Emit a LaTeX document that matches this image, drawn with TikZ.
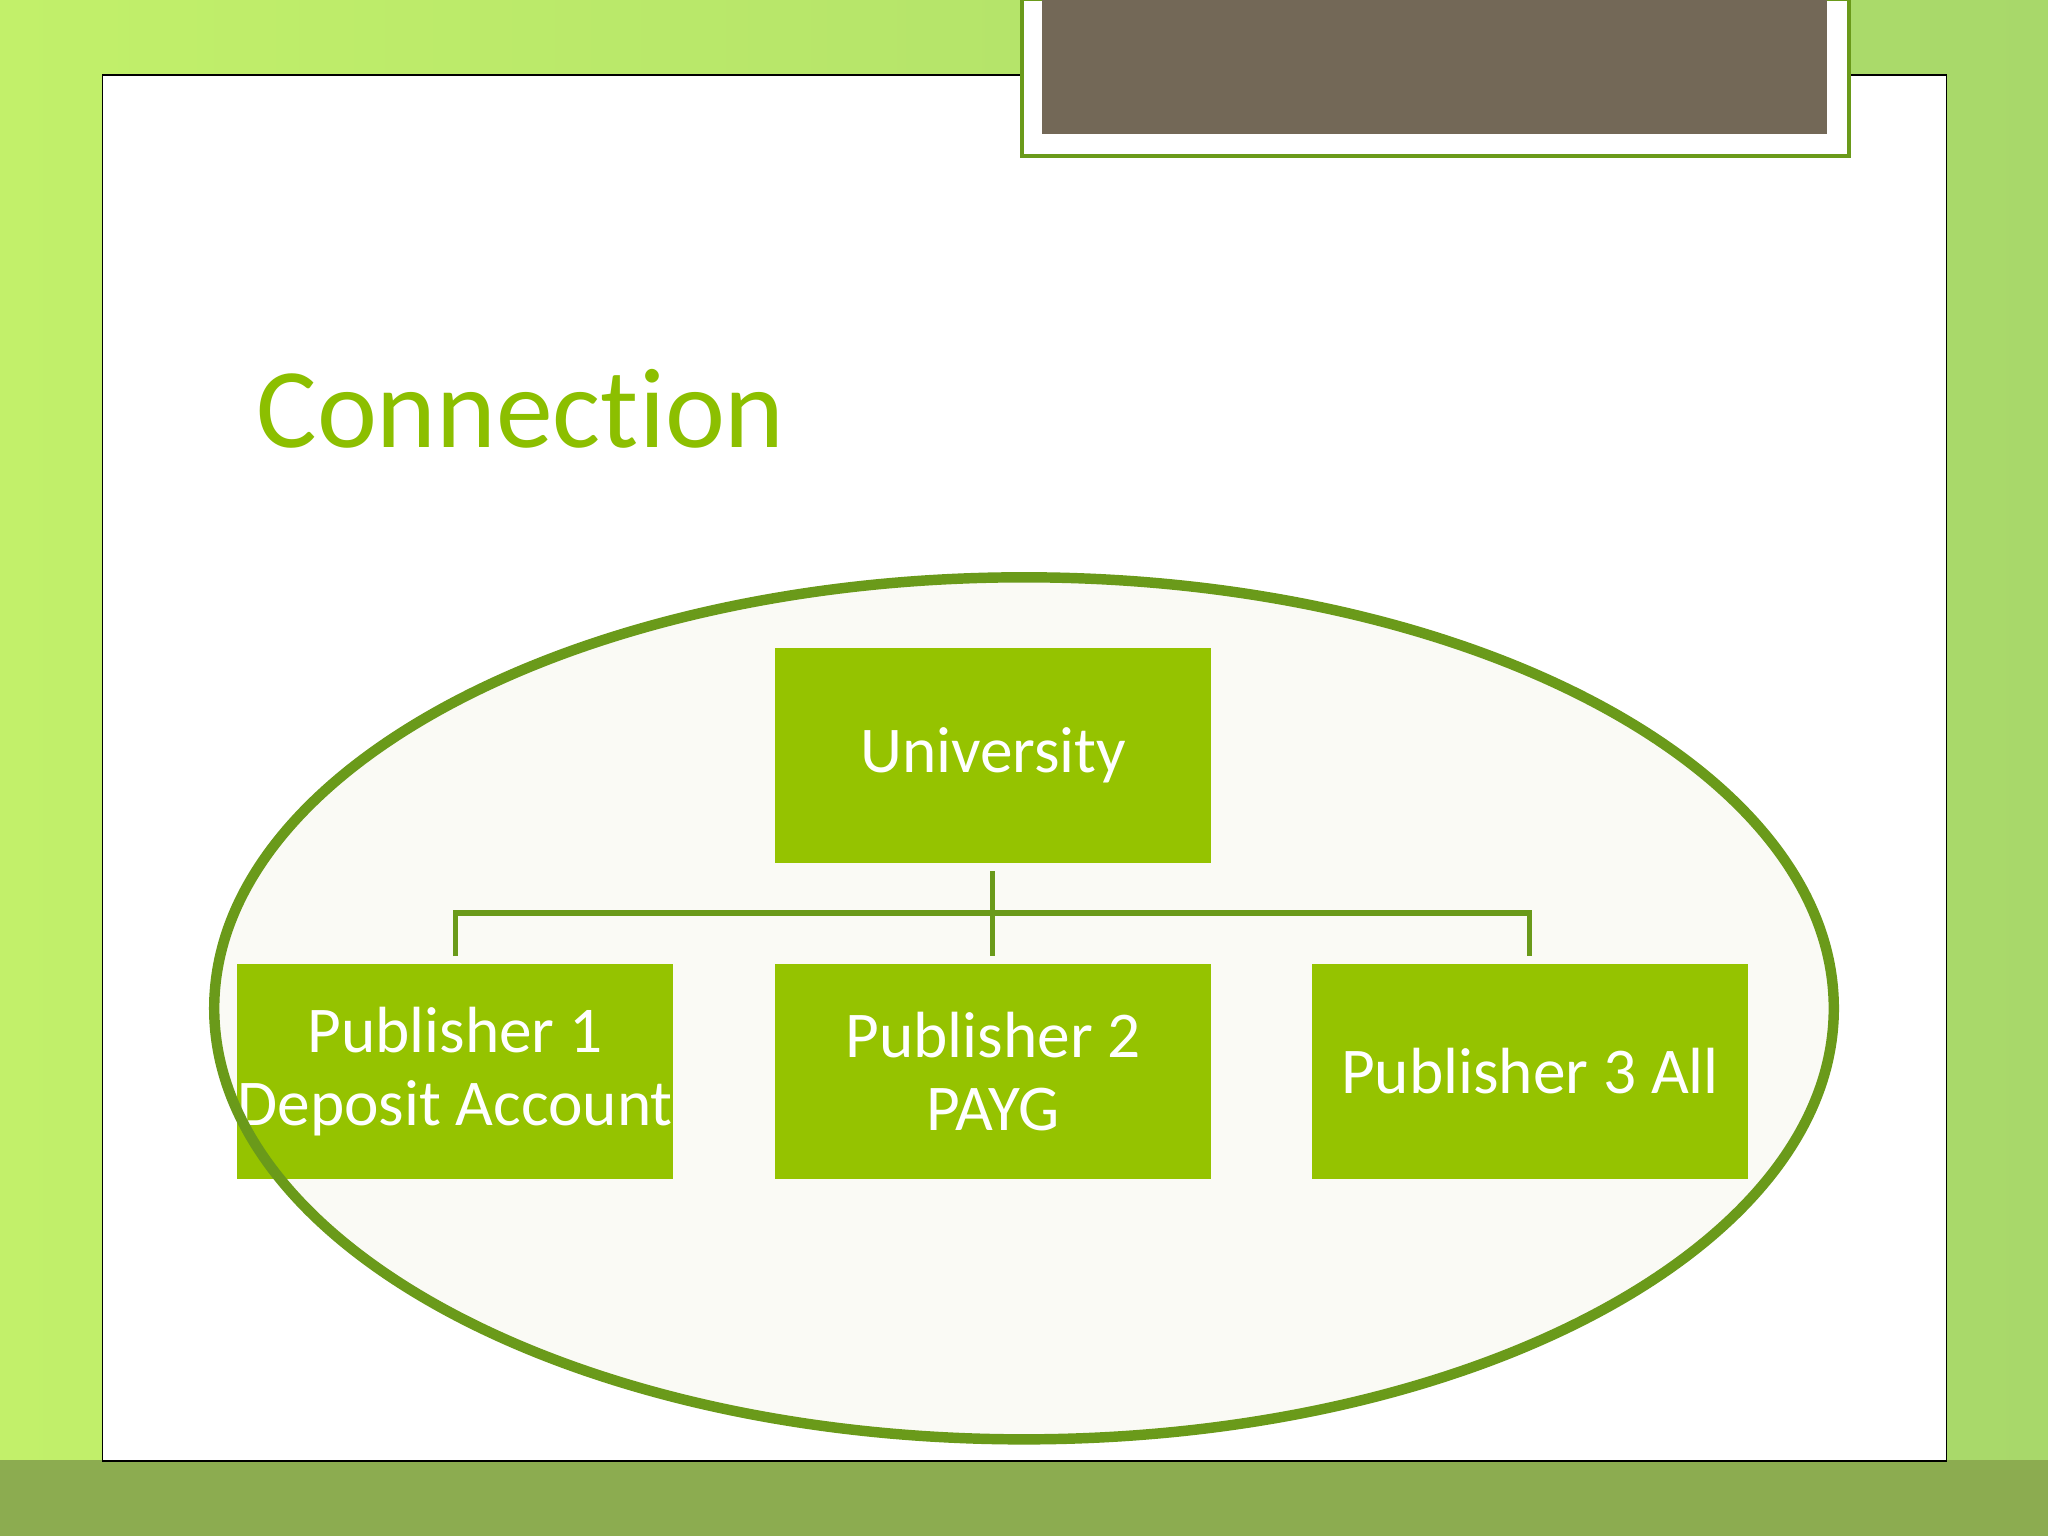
\documentclass[tikz,border=0pt]{standalone}
\usepackage{fontspec}
\setmainfont{Carlito}[Ligatures={NoCommon,NoDiscretionary,NoRare}]
\usetikzlibrary{positioning}
\definecolor{boxg}{HTML}{95C300}
\definecolor{lineg}{HTML}{6A9A1A}
\definecolor{titleg}{HTML}{8CBF00}
\definecolor{brown}{HTML}{736857}
\definecolor{ellf}{HTML}{FAFAF5}
\definecolor{bgl}{HTML}{C2F06A}
\definecolor{bgr}{HTML}{A8D86A}
\definecolor{bgb}{HTML}{8CAC50}
\tikzset{
  box/.style={draw=none,fill=boxg,minimum width=167pt,minimum height=82pt,inner sep=0pt,
    text=white,font=\fontsize{25}{28}\selectfont,align=center},
  conn/.style={draw=lineg,line width=2pt}
}
\begin{document}
\begin{tikzpicture}[x=0.5pt,y=-0.5pt]
\useasboundingbox (0,0) rectangle (1568,1176);
\shade[left color=bgl, right color=bgr] (0,0) rectangle (1568,1176);
\fill[bgb] (0,1118) rectangle (1568,1176);
\node[draw=black,line width=0.5pt,fill=white,minimum width=706pt,minimum height=530.5pt,inner sep=0pt,anchor=north west] (slide) at (78,57) {};
\node[draw=lineg,line width=1.5pt,fill=white,minimum width=316.5pt,minimum height=60pt,anchor=north west,inner sep=0pt] (topbox) at (781,-2) {};
\node[fill=brown,minimum width=300.5pt,minimum height=52pt,anchor=north west,inner sep=0pt] (topin) at (797,-2) {};
\node[anchor=base west,text=titleg,font=\fontsize{43.5}{50}\selectfont,inner sep=0pt] (title) at (196,343) {Connection};
\fill[ellf] (784,772) ellipse [x radius=620, y radius=330];
\node[box,anchor=north west] (uni) at (593,496) {University};
\node[box,anchor=north west] (p1) at (181,738) {Publisher 1\\Deposit Account};
\node[box,anchor=north west] (p2) at (593,738) {Publisher 2\\PAYG};
\node[box,anchor=north west] (p3) at (1004,738) {Publisher 3 All};
\coordinate (a) at (760,667);
\coordinate (b) at (760,732);
\coordinate (l) at (349,732);
\coordinate (r) at (1171,732);
\draw[conn] (a) -- (b);
\draw[conn] (l) -- (349,699) -- (1171,699) -- (r);
\draw[lineg,line width=4pt] (784,772) ellipse [x radius=620, y radius=330];
\end{tikzpicture}
\end{document}
